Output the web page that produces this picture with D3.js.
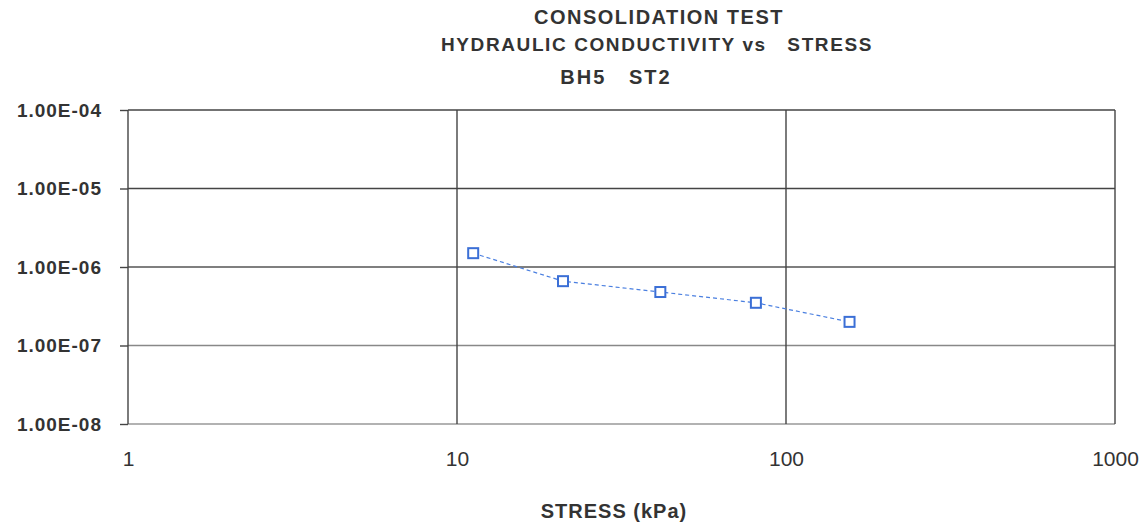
<!DOCTYPE html>
<head>
  <meta charset="utf-8">
  <script src="https://d3js.org/d3.v7.min.js"></script>
  <style>
    body { margin:0; background:#fff; }
    text { font-family: "Liberation Sans", Arial, sans-serif; fill:#333; white-space: pre; }
  </style>
</head>
<body>
<script>

// data
var stress = [11.2, 21, 41.5, 81, 156];          // kPa
var conductivity = [1.5e-6, 6.6e-7, 4.8e-7, 3.5e-7, 2.0e-7];
var xTicks = [1, 10, 100, 1000];
var yTicks = [1e-4, 1e-5, 1e-6, 1e-7, 1e-8];
var yLabels = ['1.00E-04', '1.00E-05', '1.00E-06', '1.00E-07', '1.00E-08'];
var gridShade = ['#444', '#444', '#555', '#888', '#999'];
var titles = ['CONSOLIDATION TEST', 'HYDRAULIC CONDUCTIVITY vs   STRESS', 'BH5   ST2'];

var width = 1143, height = 529;

var svg = d3.select('body').append('svg')
    .attr('width', width)
    .attr('height', height);

var x = d3.scaleLog().domain([1, 1000]).range([128, 1115]);
var y = d3.scaleLog().domain([1e-8, 1e-4]).range([424, 110]);

// titles
svg.append('text').attr('x', 659).attr('y', 24).attr('text-anchor', 'middle')
    .style('font-size', '20px').style('font-weight', 'bold').style('letter-spacing', '1.5px').text(titles[0]);
svg.append('text').attr('x', 657).attr('y', 51).attr('text-anchor', 'middle')
    .style('font-size', '19px').style('font-weight', 'bold').style('letter-spacing', '1.6px').text(titles[1]);
svg.append('text').attr('x', 616).attr('y', 84).attr('text-anchor', 'middle')
    .style('font-size', '20px').style('font-weight', 'bold').style('letter-spacing', '2px').text(titles[2]);

// grid
var grid = svg.append('g');
grid.selectAll('.hgrid').data(yTicks).enter().append('line')
    .attr('x1', x(1)).attr('x2', x(1000))
    .attr('y1', d => y(d)).attr('y2', d => y(d))
    .attr('stroke', (d, i) => gridShade[i]).attr('stroke-width', 1.4);
grid.selectAll('.vgrid').data(xTicks).enter().append('line')
    .attr('x1', d => x(d)).attr('x2', d => x(d))
    .attr('y1', y(1e-4)).attr('y2', y(1e-8))
    .attr('stroke', '#444').attr('stroke-width', 1.4);

// y ticks + labels
var yAxis = d3.axisLeft(y).tickValues(yTicks).tickSize(8)
    .tickFormat((d, i) => yLabels[i]);
var ya = svg.append('g').attr('transform', 'translate(' + x(1) + ',0)').call(yAxis);
ya.select('.domain').remove();
ya.selectAll('line').attr('stroke', '#444').attr('stroke-width', 1.4);
ya.selectAll('text').style('font-size', '19px').style('font-weight', 'bold')
    .style('letter-spacing', '1px')
    .attr('fill', '#333').attr('x', -26);

// x labels
var xAxis = d3.axisBottom(x).tickValues(xTicks).tickSize(0)
    .tickFormat(d3.format('d'));
var xa = svg.append('g').attr('transform', 'translate(0,' + (y(1e-8) + 24) + ')').call(xAxis);
xa.select('.domain').remove();
xa.selectAll('text').style('font-size', '21px').attr('fill', '#333');

svg.append('text').attr('x', 614).attr('y', 518).attr('text-anchor', 'middle')
    .style('font-size', '20px').style('font-weight', 'bold').style('letter-spacing', '1px')
    .text('STRESS (kPa)');

// series
var pts = stress.map((s, i) => [s, conductivity[i]]);
var line = d3.line().x(d => x(d[0])).y(d => y(d[1]));

svg.append('path').datum(pts)
    .attr('d', line)
    .attr('fill', 'none')
    .attr('stroke', '#4a7fe0')
    .attr('stroke-width', 1.2)
    .attr('stroke-dasharray', '4,3');

svg.selectAll('.pt').data(pts).enter().append('rect')
    .attr('x', d => x(d[0]) - 5).attr('y', d => y(d[1]) - 5)
    .attr('width', 10).attr('height', 10)
    .attr('fill', '#fff')
    .attr('stroke', '#3b6fd6')
    .attr('stroke-width', 2);

</script>
</body>
